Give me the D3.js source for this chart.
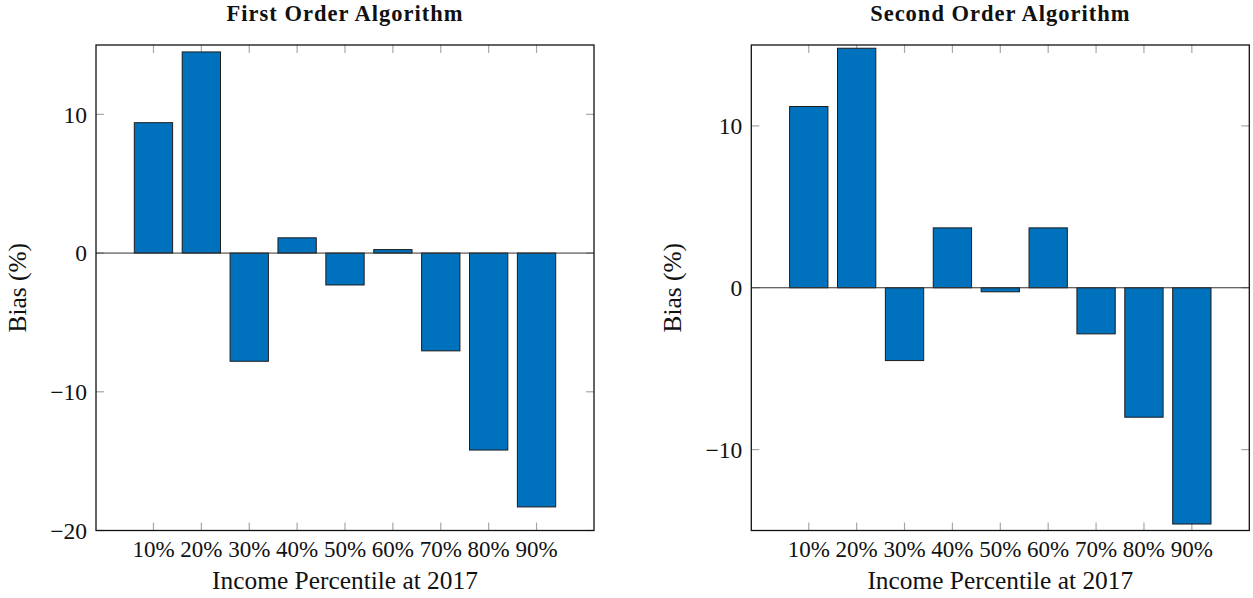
<!DOCTYPE html>
<html><head><meta charset="utf-8">
<script src="https://cdn.jsdelivr.net/npm/d3@7"></script>
<style>
body{margin:0;background:#fff;}
svg text{font-family:"Liberation Serif","Times New Roman",serif;fill:#111;}
</style></head>
<body><svg id="chart" width="1253" height="598"></svg>
<script>
const categories = ["10%","20%","30%","40%","50%","60%","70%","80%","90%"];
const firstOrder = [9.4, 14.5, -7.8, 1.1, -2.3, 0.25, -7.05, -14.2, -18.3];
const secondOrder = [11.2, 14.8, -4.5, 3.7, -0.25, 3.7, -2.85, -8.0, -14.6];
const firstTicks = [-20, -10, 0, 10];
const secondTicks = [-10, 0, 10];
const firstDomain = [-20, 15];
const secondDomain = [-15, 15];
const titles = ["First Order Algorithm", "Second Order Algorithm"];
const xTitle = "Income Percentile at 2017";
const yTitle = "Bias (%)";

const svg = d3.select("#chart");
const barColor = "#0072bd";

function panel(left, values, yDomain, yTicks, title) {
  const top = 45, bottom = 530.5, right = left + 498;
  const x = d3.scaleLinear().domain([-0.2, 10.2]).range([left, right]);
  const y = d3.scaleLinear().domain(yDomain).range([bottom, top]);
  const g = svg.append("g");
  const cx = (left + right) / 2;

  const idx = d3.range(1, categories.length + 1);
  const tickCol = "#a8a8a8";
  g.selectAll(".xtb").data(idx).enter().append("line")
    .attr("x1", d => x(d)).attr("x2", d => x(d))
    .attr("y1", bottom).attr("y2", bottom - 8)
    .attr("stroke", tickCol).attr("stroke-width", 1.2);
  g.selectAll(".xtt").data(idx).enter().append("line")
    .attr("x1", d => x(d)).attr("x2", d => x(d))
    .attr("y1", top).attr("y2", top + 8)
    .attr("stroke", tickCol).attr("stroke-width", 1.2);
  g.selectAll(".ytl").data(yTicks).enter().append("line")
    .attr("x1", left).attr("x2", left + 8)
    .attr("y1", d => y(d)).attr("y2", d => y(d))
    .attr("stroke", tickCol).attr("stroke-width", 1.2);
  g.selectAll(".ytr").data(yTicks).enter().append("line")
    .attr("x1", right).attr("x2", right - 8)
    .attr("y1", d => y(d)).attr("y2", d => y(d))
    .attr("stroke", tickCol).attr("stroke-width", 1.2);

  g.selectAll(".bar").data(values).enter().append("rect")
    .attr("x", (d, i) => x(i + 1 - 0.4))
    .attr("width", (d, i) => x(i + 1 + 0.4) - x(i + 1 - 0.4))
    .attr("y", d => y(Math.max(0, d)))
    .attr("height", d => Math.abs(y(d) - y(0)))
    .attr("fill", barColor)
    .attr("stroke", "#1c1c1c").attr("stroke-width", 1);

  g.append("line").attr("x1", left).attr("x2", right)
    .attr("y1", y(0)).attr("y2", y(0))
    .attr("stroke", "#333").attr("stroke-width", 1);

  g.append("rect").attr("x", left).attr("y", top)
    .attr("width", right - left).attr("height", bottom - top)
    .attr("fill", "none").attr("stroke", "#111").attr("stroke-width", 1.3);

  g.selectAll(".ylab").data(yTicks).enter().append("text")
    .attr("x", left - 9).attr("y", d => y(d))
    .attr("dy", "0.35em").attr("text-anchor", "end")
    .attr("font-size", 23.5)
    .text(d => d < 0 ? "\u2212" + Math.abs(d) : d);

  g.selectAll(".xlab").data(categories).enter().append("text")
    .attr("x", (d, i) => x(i + 1)).attr("y", bottom + 26)
    .attr("text-anchor", "middle").attr("font-size", 23)
    .text(d => d);

  g.append("text").attr("x", cx).attr("y", 589)
    .attr("text-anchor", "middle").attr("font-size", 25.4).text(xTitle);
  g.append("text")
    .attr("transform", `translate(${left - 70},${(top + bottom) / 2}) rotate(-90)`)
    .attr("text-anchor", "middle").attr("font-size", 25.4).text(yTitle);

  g.append("text").attr("x", cx).attr("y", 21)
    .attr("text-anchor", "middle").attr("font-size", 22.5)
    .attr("letter-spacing", 1)
    .attr("font-weight", "bold").text(title);
}

panel(96, firstOrder, firstDomain, firstTicks, titles[0]);
panel(751.3, secondOrder, secondDomain, secondTicks, titles[1]);
</script></body></html>
